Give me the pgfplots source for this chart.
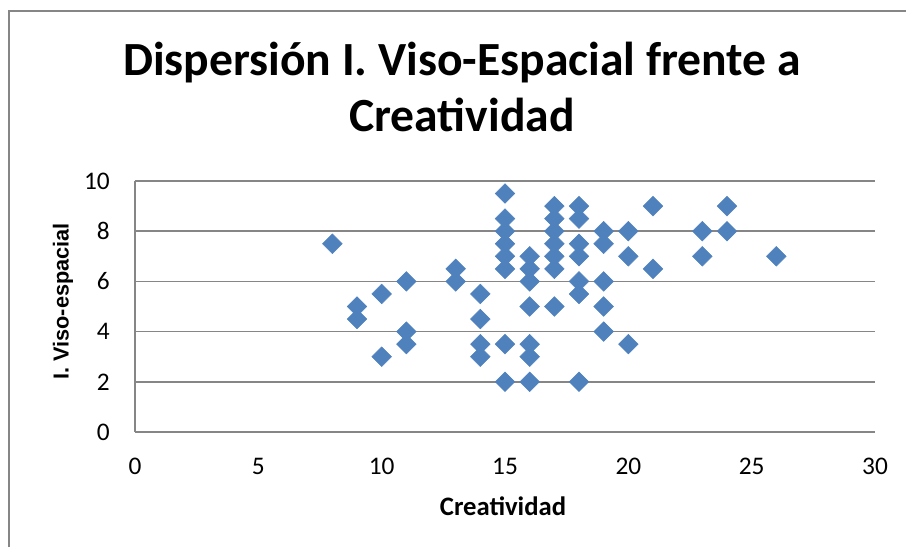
\documentclass[border=0pt]{standalone}
\usepackage{pgfplots}
\pgfplotsset{compat=1.18}
\usepackage{fontspec}
\setmainfont{Carlito}
\newfontfamily\arialfont{Liberation Sans}
\definecolor{mblue}{HTML}{4F81BD}
\definecolor{ggray}{HTML}{868686}
\begin{document}
\begin{tikzpicture}
\useasboundingbox (0pt,0pt) rectangle (679.5pt,410.25pt);
\draw[ggray, line width=1.1pt] (6.75pt,0pt) -- (6.75pt,402pt) -- (679.5pt,402pt);
\begin{axis}[
  at={(101.25pt,86.25pt)}, anchor=south west,
  scale only axis, width=555pt, height=188.25pt,
  xmin=0, xmax=30, ymin=0, ymax=10,
  xtick={0,5,...,30}, ytick={0,2,...,10},
  axis x line=bottom, axis y line=left,
  axis line style={-, draw=ggray, line width=1.2pt},
  ymajorgrids, grid style={draw=ggray, line width=1.2pt},
  major tick length=0pt,
  /pgf/number format/assume math mode=true,
  tick label style={font=\fontsize{19pt}{22pt}\selectfont, inner sep=0pt},
  xticklabel style={anchor=base, yshift=-31.5pt},
  yticklabel style={anchor=east, xshift=-18.75pt},
]
\addplot[only marks, mark=square*, mark size=5.2pt, mark options={rotate=45, fill=mblue, draw=mblue}] coordinates {
(8,7.5)
(9,5) (9,4.5)
(10,5.5) (10,3)
(11,6) (11,4) (11,3.5)
(13,6.5) (13,6)
(14,5.5) (14,4.5) (14,3.5) (14,3)
(15,9.5) (15,8.5) (15,8) (15,7.5) (15,7) (15,6.5) (15,3.5) (15,2)
(16,7) (16,6.5) (16,6) (16,5) (16,3.5) (16,3) (16,2)
(17,9) (17,8.5) (17,8) (17,7.5) (17,7) (17,6.5) (17,5)
(18,9) (18,8.5) (18,7.5) (18,7) (18,6) (18,5.5) (18,2)
(19,8) (19,7.5) (19,6) (19,5) (19,4)
(20,8) (20,7) (20,3.5)
(21,9) (21,6.5)
(23,8) (23,7)
(24,9) (24,8)
(26,7)
};
\end{axis}
\node[anchor=base, inner sep=0pt, font=\fontsize{35.7pt}{42pt}\selectfont\bfseries] at (346.5pt,353.25pt) {Dispersión I. Viso-Espacial frente a};
\node[anchor=base, inner sep=0pt, font=\fontsize{35.7pt}{42pt}\selectfont\bfseries] at (346.5pt,311.25pt) {Creatividad};
\node[anchor=base, inner sep=0pt, font=\fontsize{20pt}{24pt}\selectfont\bfseries] at (377.25pt,24pt) {Creatividad};
\node[anchor=base, inner sep=0pt, rotate=90, font=\arialfont\fontsize{16.3pt}{20pt}\selectfont\bfseries] at (51.4pt,184.1pt) {I. Viso-espacial};
\end{tikzpicture}
\end{document}
